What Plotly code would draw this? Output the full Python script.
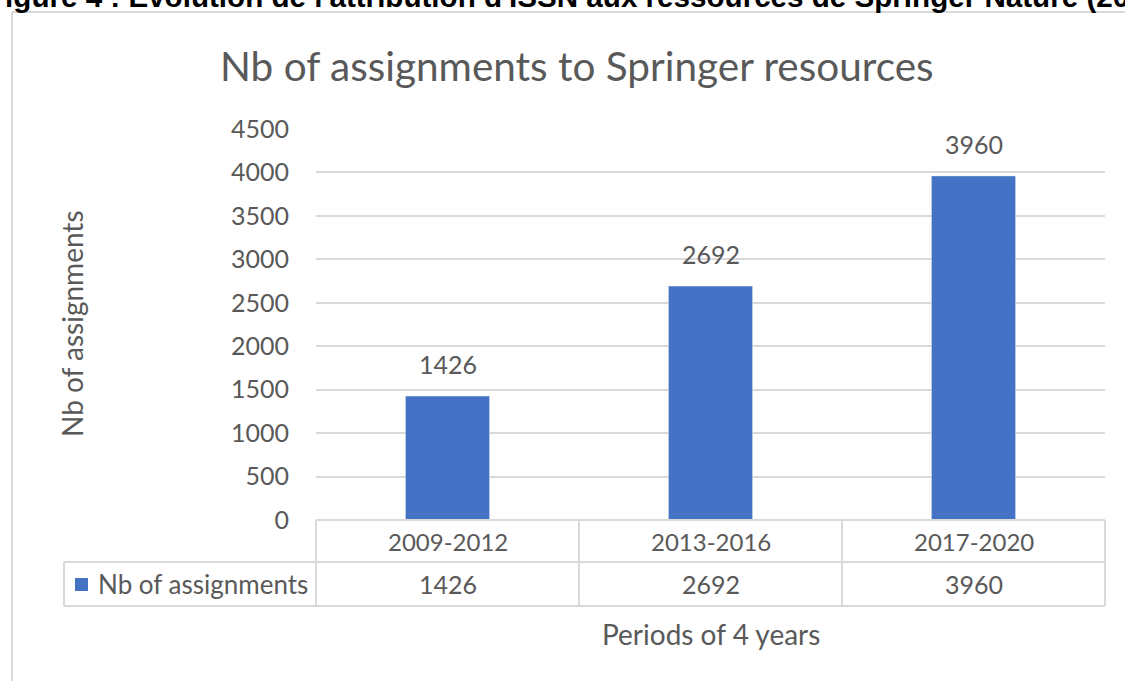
import plotly.graph_objects as go

periods = ["2009-2012", "2013-2016", "2017-2020"]
assignments = [1426, 2692, 3960]
y_ticks = [0, 500, 1000, 1500, 2000, 2500, 3000, 3500, 4000, 4500]
series_name = "Nb of assignments"
chart_title = "Nb of assignments to Springer resources"
x_title = "Periods of 4 years"
y_title = "Nb of assignments"
caption = "Figure 4 : Évolution de l'attribution d'ISSN aux ressources de Springer Nature (20"

W, H = 1125, 681
L, R, T, B = 316, 1105, 129, 520
BLUE = "#4472C4"
GRAY = "#595959"
LINE = "#d9d9d9"
FONT = "Lato"


def px(x):
    return (x - L) / (R - L)


def py(y):
    return (B - y) / (B - T)


fig = go.Figure()
fig.add_trace(go.Bar(x=periods, y=assignments, marker_color=BLUE, width=0.32,
                     name=series_name, showlegend=False, hoverinfo="x+y"))

shapes = []


def hline(x0, x1, y, color=LINE, w=2):
    shapes.append(dict(type="line", xref="paper", yref="paper", x0=px(x0), x1=px(x1),
                       y0=py(y), y1=py(y), line=dict(color=color, width=w)))


def vline(x, y0, y1, color=LINE, w=2):
    shapes.append(dict(type="line", xref="paper", yref="paper", x0=px(x), x1=px(x),
                       y0=py(y0), y1=py(y1), line=dict(color=color, width=w)))


# outer chart frame
hline(12, 1140, 12)
vline(12, 12, 700)

# data table grid
hline(L, R, 520)
hline(64, R, 562)
hline(64, R, 606)
for xv in [L, 579, 842, R]:
    vline(xv, 520, 606)
vline(64, 562, 606)

# legend key
shapes.append(dict(type="rect", xref="paper", yref="paper", x0=px(75), x1=px(88),
                   y0=py(591), y1=py(578), fillcolor=BLUE, line=dict(width=0)))

ann = []
# caption (cut off at the top of the page, as in the source)
ann.append(dict(text=caption, xref="paper", yref="paper", x=px(-15), y=py(15),
                xanchor="left", yanchor="bottom", showarrow=False,
                font=dict(family="Liberation Sans", size=29.6, color="#000000", weight="bold")))
# title
ann.append(dict(text=chart_title, xref="paper", yref="paper", x=px(577), y=py(65),
                xanchor="center", yanchor="middle", showarrow=False,
                font=dict(family=FONT, size=40.5, color=GRAY)))
# axis titles
ann.append(dict(text=y_title, xref="paper", yref="paper", x=px(72), y=py(324),
                xanchor="center", yanchor="middle", textangle=-90, showarrow=False,
                font=dict(family=FONT, size=28, color=GRAY)))
ann.append(dict(text=x_title, xref="paper", yref="paper", x=px(711), y=py(634),
                xanchor="center", yanchor="middle", showarrow=False,
                font=dict(family=FONT, size=28, color=GRAY)))
# legend text
ann.append(dict(text=series_name, xref="paper", yref="paper", x=px(96), y=py(584),
                xanchor="left", yanchor="middle", showarrow=False,
                font=dict(family=FONT, size=26, color=GRAY)))
# table cells + data labels
for p, v in zip(periods, assignments):
    ann.append(dict(text=p, xref="x", yref="paper", x=p, y=py(541),
                    xanchor="center", yanchor="middle", showarrow=False,
                    font=dict(family=FONT, size=24, color=GRAY)))
    ann.append(dict(text=str(v), xref="x", yref="paper", x=p, y=py(584),
                    xanchor="center", yanchor="middle", showarrow=False,
                    font=dict(family=FONT, size=25, color=GRAY)))
    ann.append(dict(text=str(v), xref="x", yref="y", x=p, y=v, yshift=15,
                    xanchor="center", yanchor="bottom", showarrow=False,
                    font=dict(family=FONT, size=25, color=GRAY)))

fig.update_layout(
    width=W, height=H,
    margin=dict(l=L, r=W - R, t=T, b=H - B, pad=0),
    paper_bgcolor="white", plot_bgcolor="white",
    bargap=0.68,
    shapes=shapes, annotations=ann,
    xaxis=dict(showticklabels=False, showgrid=False, zeroline=False, showline=False,
               ticks=""),
    yaxis=dict(range=[0, 4500], tickvals=y_ticks, showgrid=True, gridcolor=LINE,
               gridwidth=2, zeroline=False, showline=False, ticks="",
               ticklabelstandoff=26,
               tickfont=dict(family=FONT, size=25, color=GRAY)),
    font=dict(family=FONT, color=GRAY),
)

fig.write_html("out.html", config={"displayModeBar": False},
               post_script="document.body.style.margin='0';")
